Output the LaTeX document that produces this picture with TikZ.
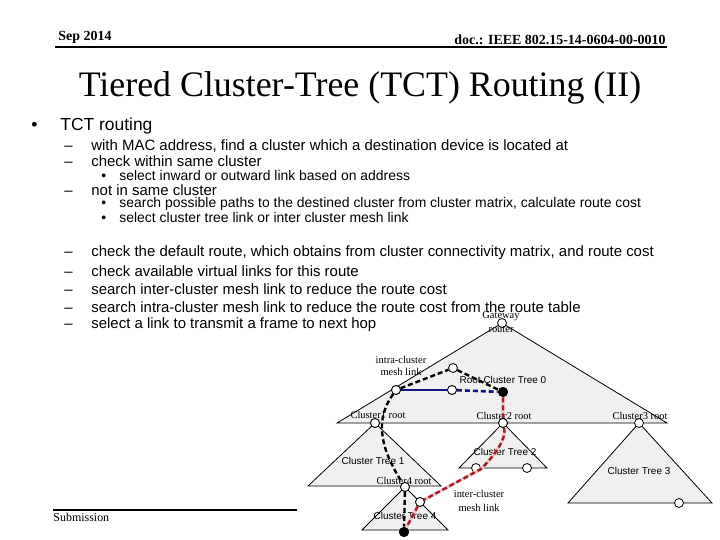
\documentclass[tikz,border=0pt]{standalone}
\usepackage{fontspec}
\setmainfont{Liberation Serif}
\setsansfont{Liberation Sans}
\usepackage{tikz}
\usetikzlibrary{calc}
\definecolor{link-blue}{RGB}{20,20,130}
\definecolor{link-red}{RGB}{170,25,35}
\definecolor{halo-red}{RGB}{235,200,200}
\tikzset{
every picture/.style={line width=0.8pt},
%%%%%%%%%%  Node styles
emptynode/.style={circle,minimum size=0pt, inner sep=0pt, outer sep=0},
small_circle/.style={fill=white,circle,draw,line width=0.8pt, minimum size=9pt,
                 inner sep=0pt},
dotnode/.style={fill=black,circle,minimum size=10pt, inner sep=0pt},
%%%%%%% Text styles
serif_label/.style={inner sep=0pt, font=\fontsize{10.5}{11}\selectfont},
sans_label/.style={inner sep=0pt, font=\sffamily\fontsize{10}{11}\selectfont},
level_one/.style={anchor=west, inner sep=0pt, font=\sffamily\fontsize{17.5}{19}\selectfont},
level_two/.style={anchor=west, inner sep=0pt, font=\sffamily\fontsize{15}{17}\selectfont},
level_three/.style={anchor=west, inner sep=0pt, font=\sffamily\fontsize{14}{15}\selectfont},
%%%%%%% Fill styles
cell/.style={fill=black!6, draw=black, line width=0.8pt},
%%%%%%% link styles
black_link/.style={draw=black, line width=2.4pt, dash pattern=on 5pt off 3pt},
blue_link/.style={draw=link-blue, line width=2.6pt},
blue_dash/.style={blue_link, dash pattern=on 5pt off 3pt},
red_link/.style={draw=link-red, line width=2.4pt,
                 dash pattern=on 5pt off 3pt,
                 preaction={draw=halo-red,line width=3.2pt,solid}}
}
%% bullet marks in front of the lines
\newcommand{\dashitem}[1]{\makebox[27bp][l]{--}#1}
\newcommand{\dotitem}[1]{\makebox[18bp][l]{\textbullet}#1}

\begin{document}
\begin{tikzpicture}[x=1bp,y=-1bp]
\useasboundingbox (0,0) rectangle (720,540);
\fill[white] (0,0) rectangle (720,540);
%% header and footer
\node[inner sep=0, font=\bfseries\fontsize{14}{15}\selectfont] (date) at (85,37) {Sep 2014};
\node[inner sep=0, anchor=east, font=\bfseries\fontsize{14}{15}\selectfont] (doc) at (666,40) {doc.: IEEE 802.15-14-0604-00-0010};
\draw[line width=2pt] (55,47) -- (667,47);
\draw[line width=2pt] (53,510) -- (297,510);
\node[inner sep=0, anchor=west, font=\fontsize{12}{13}\selectfont] (sub) at (53,517) {Submission};
%% title
\node[inner sep=0, font=\fontsize{36}{38}\selectfont] (title) at (360,88) {Tiered Cluster-Tree (TCT) Routing (II)};
%% bullet text
\node[level_one] (tct) at (31,126) {\makebox[29bp][l]{\textbullet}TCT routing};
\node[level_two] (mac) at (64,146) {\dashitem{with MAC address, find a cluster which a destination device is located at}};
\node[level_two] (same) at (64,161) {\dashitem{check within same cluster}};
\node[level_three] (inout) at (101,176) {\dotitem{select inward or outward link based on address}};
\node[level_two] (notsame) at (64,190) {\dashitem{not in same cluster}};
\node[level_three] (paths) at (101,204) {\dotitem{search possible paths to the destined cluster from cluster matrix, calculate route cost}};
\node[level_three] (select) at (101,218) {\dotitem{select cluster tree link or inter cluster mesh link}};
\foreach \y/\t in {253/{check the default route, which obtains from cluster connectivity matrix, and route cost},
                   271/{check available virtual links for this route},
                   289/{search inter-cluster mesh link to reduce the route cost},
                   307/{search intra-cluster mesh link to reduce the route cost from the route table},
                   325/{select a link to transmit a frame to next hop}}
{
\node[level_two] at (64,\y) {\dashitem{\t}};
}
%%%%%%%%%%%%%%%%%%%%%%%%%%%%%%%%%%%%%%%%%%%%%%%%%%%%%%%
%% root cluster tree 0
\filldraw[cell] (502,323) -- (337,423) -- (667,423) -- cycle;
%% cluster trees 1-4
\filldraw[cell] (375,423) -- (308,486) -- (441,486) -- cycle;
\filldraw[cell] (503,423) -- (459,468) -- (547,468) -- cycle;
\filldraw[cell] (639,423) -- (568,503) -- (712,503) -- cycle;
\filldraw[cell] (405,487) -- (362,530) -- (448,530) -- cycle;
%% tree nodes
\node[small_circle] (gw) at (502,323) {};
\node[small_circle] (n1) at (396,390) {};
\node[small_circle] (n2) at (453,368) {};
\node[small_circle] (n3) at (452,390) {};
\node[dotnode] (src) at (503,392) {};
\node[small_circle] (c1) at (375,423) {};
\node[small_circle] (c2) at (503,423) {};
\node[small_circle] (c3) at (639,423) {};
\node[small_circle] (c4) at (405,487) {};
\node[small_circle] (t2a) at (476,468) {};
\node[small_circle] (t2b) at (527,468) {};
\node[small_circle] (t3a) at (679,503) {};
\node[small_circle] (t4a) at (420,502) {};
\node[dotnode] (dst) at (404,532) {};
\coordinate (bend) at (481,469);
%% labels
\node[serif_label] at (501,316) {Gateway};
\node[serif_label] at (501,330) {router};
\node[serif_label] at (401,360) {intra-cluster};
\node[serif_label] at (401,372) {mesh link};
\node[sans_label] at (503,380) {Root Cluster Tree 0};
\node[serif_label] at (378,415) {Cluster1 root};
\node[serif_label] at (504,416) {Cluster2 root};
\node[serif_label] at (640,416) {Cluster3 root};
\node[serif_label] at (404,481) {Cluster4 root};
\node[sans_label] at (373,461) {Cluster Tree 1};
\node[sans_label] at (505,452) {Cluster Tree 2};
\node[sans_label] at (639,471) {Cluster Tree 3};
\node[sans_label] at (405,516) {Cluster Tree 4};
\node[serif_label] at (479,494) {inter-cluster};
\node[serif_label] at (479,508) {mesh link};
%% cluster tree route
\draw[black_link] (n1) -- (n2) -- (src);
\draw[black_link] (n1) .. controls (376,418) and (378,445) .. (c4) -- (dst);
%% intra-cluster mesh link
\draw[blue_link] (n1) -- (n3);
\draw[blue_dash] (n3) -- (src);
%% inter-cluster mesh link
\draw[red_link] (src) -- (c2) .. controls (507,440) and (492,458) .. (bend) -- (t4a) -- (dst);
%% redraw nodes on top
\foreach \n in {n1,n3,c1,c2,c4,t4a}
  \node[small_circle] at (\n) {};
\node[dotnode] at (src) {};
\node[dotnode] at (dst) {};
\end{tikzpicture}
\end{document}
